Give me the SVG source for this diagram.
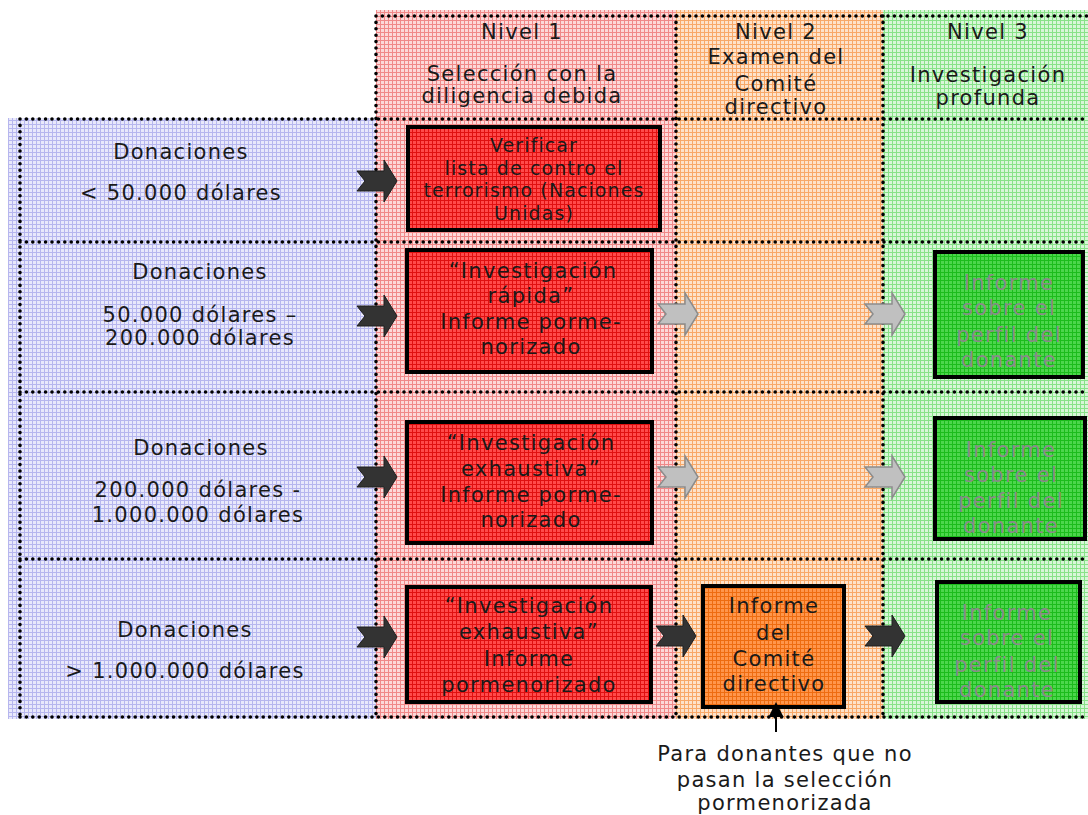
<svg xmlns="http://www.w3.org/2000/svg" width="1088" height="815" viewBox="0 0 1088 815">
<defs>
<pattern id="pBlue" width="4" height="4" patternUnits="userSpaceOnUse"><rect width="4" height="4" fill="#e8e8fb"/><path d="M0,0.5H4M0.5,0V4" stroke="#b6b6ee" stroke-width="1"/></pattern>
<pattern id="pRed" width="4" height="4" patternUnits="userSpaceOnUse"><rect width="4" height="4" fill="#fcd8d8"/><path d="M0,0.5H4M0.5,0V4" stroke="#f08888" stroke-width="1"/></pattern>
<pattern id="pOrange" width="4" height="4" patternUnits="userSpaceOnUse"><rect width="4" height="4" fill="#fde2ca"/><path d="M0,0.5H4M0.5,0V4" stroke="#f8a868" stroke-width="1"/></pattern>
<pattern id="pGreen" width="4" height="4" patternUnits="userSpaceOnUse"><rect width="4" height="4" fill="#d8f6d8"/><path d="M0,0.5H4M0.5,0V4" stroke="#88e288" stroke-width="1"/></pattern>
<pattern id="pRedBox" width="4" height="4" patternUnits="userSpaceOnUse"><rect width="4" height="4" fill="#ff4a4a"/><path d="M0,0.5H4M0.5,0V4" stroke="#e01010" stroke-width="1"/></pattern>
<pattern id="pOrangeBox" width="4" height="4" patternUnits="userSpaceOnUse"><rect width="4" height="4" fill="#ff964c"/><path d="M0,0.5H4M0.5,0V4" stroke="#ee6c10" stroke-width="1"/></pattern>
<pattern id="pGreenBox" width="4" height="4" patternUnits="userSpaceOnUse"><rect width="4" height="4" fill="#4cd64c"/><path d="M0,0.5H4M0.5,0V4" stroke="#1cbc1c" stroke-width="1"/></pattern>
<path id="arrow" d="M0,-10 L27,-10 L27,-21 L40,0 L27,21 L27,10 L0,10 L8,0 Z"/>
<clipPath id="cg2"><rect x="937" y="254" width="144" height="121"/></clipPath>
<clipPath id="cg3"><rect x="937" y="420" width="146" height="117"/></clipPath>
<clipPath id="cg4"><rect x="939" y="584" width="139" height="116"/></clipPath>
</defs>
<style>
text{font-family:"DejaVu Sans","Verdana",sans-serif;font-size:21px;letter-spacing:1.3px;fill:#1a1a1a;text-anchor:middle}
.sm{font-size:19px;letter-spacing:1.1px}
.gt{fill:#8a8a8a}
.dot{stroke:#000;stroke-width:3.6;stroke-dasharray:0 6.4;stroke-linecap:round;fill:none}
.box{stroke:#000;stroke-width:4}
.dk{fill:#333;stroke:#1e1e1e;stroke-width:1}
.gr{fill:#c0c0c0;stroke:#8c8c8c;stroke-width:1.5}
</style>
<rect width="1088" height="815" fill="#fff"/>
<g id="backgrounds">
<rect x="8" y="118" width="368" height="601" fill="url(#pBlue)"/>
<rect x="376" y="10" width="300" height="709" fill="url(#pRed)"/>
<rect x="676" y="10" width="207" height="709" fill="url(#pOrange)"/>
<rect x="883" y="10" width="205" height="709" fill="url(#pGreen)"/>
</g>
<g id="grid">
<path class="dot" d="M376,16H1088M20,119H1088M20,242H1088M20,392H1088M20,559H1088M20,717H1088M20,119V717M376,16V717M676,16V717M883,16V717"/>
</g>
<g id="header-nivel1">
<text x="522" y="39">Nivel 1</text>
<text x="522" y="81">Selección con la</text>
<text x="522" y="103">diligencia debida</text>
</g>
<g id="header-nivel2">
<text x="776" y="39">Nivel 2</text>
<text x="776" y="64">Examen del</text>
<text x="776" y="91">Comité</text>
<text x="776" y="114">directivo</text>
</g>
<g id="header-nivel3">
<text x="988" y="39">Nivel 3</text>
<text x="988" y="82">Investigación</text>
<text x="988" y="105">profunda</text>
</g>
<g id="row1-label">
<text x="181" y="159">Donaciones</text>
<text x="181" y="200">&lt; 50.000 dólares</text>
</g>
<g id="row2-label">
<text x="200" y="279">Donaciones</text>
<text x="200" y="322">50.000 dólares –</text>
<text x="200" y="345">200.000 dólares</text>
</g>
<g id="row3-label">
<text x="201" y="455">Donaciones</text>
<text x="198" y="497">200.000 dólares -</text>
<text x="198" y="522">1.000.000 dólares</text>
</g>
<g id="row4-label">
<text x="185" y="637">Donaciones</text>
<text x="185" y="678">&gt; 1.000.000 dólares</text>
</g>
<g id="box-verificar">
<rect class="box" x="408" y="127" width="252" height="103" fill="url(#pRedBox)"/>
<text class="sm" x="534" y="152">Verificar</text>
<text class="sm" x="534" y="175">lista de contro el</text>
<text class="sm" x="534" y="197">terrorismo (Naciones</text>
<text class="sm" x="534" y="220">Unidas)</text>
</g>
<g id="box-rapida">
<rect class="box" x="407" y="250" width="245" height="122" fill="url(#pRedBox)"/>
<text x="533" y="278">“Investigación</text>
<text x="531" y="303">rápida”</text>
<text x="531" y="329">Informe porme-</text>
<text x="531" y="354">norizado</text>
</g>
<g id="box-exhaustiva1">
<rect class="box" x="407" y="422" width="245" height="121" fill="url(#pRedBox)"/>
<text x="531" y="450">“Investigación</text>
<text x="531" y="476">exhaustiva”</text>
<text x="531" y="502">Informe porme-</text>
<text x="531" y="527">norizado</text>
</g>
<g id="box-exhaustiva2">
<rect class="box" x="407" y="587" width="244" height="115" fill="url(#pRedBox)"/>
<text x="529" y="613">“Investigación</text>
<text x="529" y="639">exhaustiva”</text>
<text x="529" y="666">Informe</text>
<text x="529" y="692">pormenorizado</text>
</g>
<g id="box-comite">
<rect class="box" x="703" y="586" width="141" height="121" fill="url(#pOrangeBox)"/>
<text x="774" y="613">Informe</text>
<text x="774" y="640">del</text>
<text x="774" y="666">Comité</text>
<text x="774" y="691">directivo</text>
</g>
<g id="box-perfil1">
<rect class="box" x="935" y="252" width="148" height="125" fill="url(#pGreenBox)"/>
<g clip-path="url(#cg2)">
<text class="gt" x="1009" y="290">Informe</text>
<text class="gt" x="1009" y="315">sobre el</text>
<text class="gt" x="1009" y="342">perfil del</text>
<text class="gt" x="1009" y="367">donante</text>
</g>
</g>
<g id="box-perfil2">
<rect class="box" x="935" y="418" width="150" height="121" fill="url(#pGreenBox)"/>
<g clip-path="url(#cg3)">
<text class="gt" x="1011" y="457">Informe</text>
<text class="gt" x="1011" y="482">sobre el</text>
<text class="gt" x="1011" y="508">perfil del</text>
<text class="gt" x="1011" y="533">donante</text>
</g>
</g>
<g id="box-perfil3">
<rect class="box" x="937" y="582" width="143" height="120" fill="url(#pGreenBox)"/>
<g clip-path="url(#cg4)">
<text class="gt" x="1007" y="620">Informe</text>
<text class="gt" x="1007" y="645">sobre el</text>
<text class="gt" x="1007" y="672">perfil del</text>
<text class="gt" x="1007" y="697">donante</text>
</g>
</g>
<g id="note">
<text x="785" y="761">Para donantes que no</text>
<text x="785" y="787">pasan la selección</text>
<text x="785" y="810">pormenorizada</text>
</g>
<g id="connectors">
<use href="#arrow" class="dk" x="357" y="181"/>
<use href="#arrow" class="dk" x="357" y="316"/>
<use href="#arrow" class="dk" x="357" y="477"/>
<use href="#arrow" class="dk" x="357" y="637"/>
<use href="#arrow" class="dk" x="656" y="636"/>
<use href="#arrow" class="dk" x="865" y="636"/>
<use href="#arrow" class="gr" x="658" y="314"/>
<use href="#arrow" class="gr" x="865" y="314"/>
<use href="#arrow" class="gr" x="658" y="477"/>
<use href="#arrow" class="gr" x="865" y="477"/>
<path d="M776,732V715" stroke="#000" stroke-width="2" fill="none"/>
<path d="M776,702L768.5,717L783.5,717Z" fill="#000"/>
</g>
</svg>
